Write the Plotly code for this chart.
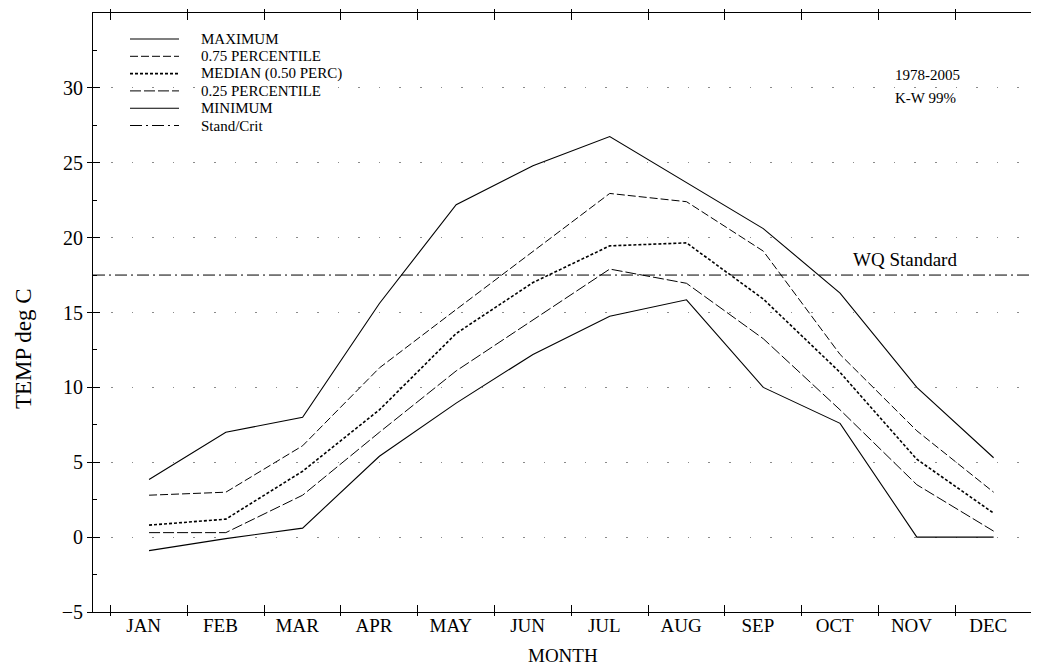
import plotly.graph_objects as go

# ---------------- data ----------------
months = ["JAN", "FEB", "MAR", "APR", "MAY", "JUN",
          "JUL", "AUG", "SEP", "OCT", "NOV", "DEC"]
maximum = [3.85, 7.0, 8.0, 15.6, 22.2, 24.8, 26.75, 23.7, 20.6, 16.3, 10.0, 5.3]
p75 = [2.8, 3.0, 6.1, 11.3, 15.2, 19.1, 22.95, 22.4, 19.1, 12.2, 7.1, 3.0]
median = [0.8, 1.2, 4.4, 8.5, 13.6, 17.0, 19.45, 19.65, 15.9, 11.0, 5.2, 1.6]
p25 = [0.3, 0.3, 2.8, 7.0, 11.1, 14.5, 17.9, 16.95, 13.25, 8.5, 3.5, 0.4]
minimum = [-0.9, -0.1, 0.6, 5.4, 8.95, 12.2, 14.75, 15.85, 10.0, 7.6, 0.0, 0.0]
wq_standard = 17.5
legend_names = ["MAXIMUM", "0.75 PERCENTILE", "MEDIAN (0.50 PERC)",
                "0.25 PERCENTILE", "MINIMUM", "Stand/Crit"]
y_tick_vals = [-5, 0, 5, 10, 15, 20, 25, 30]
y_minor_vals = [-2.5, 2.5, 7.5, 12.5, 17.5, 22.5, 27.5, 32.5]
period_text = ["1978-2005", "K-W 99%"]

# ---------------- layout constants ----------------
# the page body has an 8px margin, so the figure is sized to fill the window
OFF = 8
W, H = 1039 - OFF, 668 - OFF
PLOT_L, PLOT_R, PLOT_T, PLOT_B = 93, 1032, 13, 612   # page pixels
ML, MT = PLOT_L - OFF, PLOT_T - OFF
MR, MB = W - (PLOT_R - OFF), H - (PLOT_B - OFF)
PW, PH = PLOT_R - PLOT_L, PLOT_B - PLOT_T
FONT = "Liberation Serif, Times New Roman, serif"
X_RANGE = [-0.73, 11.5]
Y_RANGE = [-5, 35]

def px_x(px):
    return (px - PLOT_L) / PW

def px_y(py):
    return (PLOT_B - py) / PH

styles = [
    dict(dash="solid", width=1.1),
    dict(dash="8px,3px", width=1.0),
    dict(dash="3px,2px", width=1.6),
    dict(dash="11px,3px", width=1.0),
    dict(dash="solid", width=1.1),
    dict(dash="12px,4px,2px,4px", width=1.0),
]
series = [maximum, p75, median, p25, minimum]
xs = list(range(len(months)))

fig = go.Figure()
for name, vals, st in zip(legend_names[:5], series, styles[:5]):
    fig.add_trace(go.Scatter(
        x=xs, y=vals, mode="lines", name=name, showlegend=False,
        line=dict(color="black", width=st["width"], dash=st["dash"]),
        hoverinfo="skip"))

# empty helper traces so that the tick-only overlay axes are drawn
for xa, ya in [("x2", "y"), ("x3", "y"), ("x4", "y"), ("x5", "y"),
               ("x", "y2"), ("x", "y3")]:
    fig.add_trace(go.Scatter(x=[], y=[], xaxis=xa, yaxis=ya, mode="lines",
                             showlegend=False, hoverinfo="skip"))

shapes = []
# water-quality standard line
shapes.append(dict(type="line", xref="paper", x0=0, x1=1, yref="y",
                   y0=wq_standard, y1=wq_standard,
                   line=dict(color="black", width=1, dash=styles[5]["dash"])))

# custom legend
annotations = []
row0, row_gap = 39, 17.3
for i, (name, st) in enumerate(zip(legend_names, styles)):
    yy = px_y(row0 + row_gap * i)
    shapes.append(dict(type="line", xref="paper", yref="paper",
                       x0=px_x(130), x1=px_x(179), y0=yy, y1=yy,
                       line=dict(color="black", width=st["width"], dash=st["dash"])))
    annotations.append(dict(xref="paper", yref="paper", x=px_x(199), y=yy,
                            text=name, showarrow=False, xanchor="left",
                            yanchor="middle",
                            font=dict(family=FONT, size=15, color="black")))

for i, t in enumerate(period_text):
    annotations.append(dict(xref="paper", yref="paper", x=px_x(893),
                            y=px_y(75 + 23 * i), text=t, showarrow=False,
                            xanchor="left", yanchor="middle",
                            font=dict(family=FONT, size=15, color="black")))

annotations.append(dict(xref="x", yref="y", x=9.84, y=wq_standard,
                        text="WQ Standard", showarrow=False, xanchor="center",
                        yanchor="bottom", yshift=3,
                        font=dict(family=FONT, size=19, color="black")))

# axis titles
annotations.append(dict(xref="paper", yref="paper", x=px_x(563), y=px_y(655),
                        text="MONTH", showarrow=False, xanchor="center",
                        yanchor="middle",
                        font=dict(family=FONT, size=19, color="black")))
annotations.append(dict(xref="paper", yref="paper", x=px_x(23), y=px_y(349),
                        text="TEMP deg C", showarrow=False, textangle=-90,
                        xanchor="center", yanchor="middle",
                        font=dict(family=FONT, size=23, color="black")))

boundaries = [i - 0.5 for i in range(len(months) + 1)]
label_pos = [i - 0.07 for i in xs]

common = dict(automargin=False, zeroline=False, showgrid=False,
              showline=True, linecolor="black", linewidth=1)

def tick_axis(side, direction, length, vals, rng, over):
    return dict(range=rng, overlaying=over, side=side, tickmode="array",
                tickvals=vals, ticks=direction, ticklen=length,
                tickcolor="black", tickwidth=1, showticklabels=False,
                **common)

xa2 = tick_axis("bottom", "inside", 7, boundaries, X_RANGE, "x")
xa3 = tick_axis("bottom", "outside", 3, boundaries, X_RANGE, "x")
xa4 = tick_axis("top", "inside", 7, boundaries, X_RANGE, "x")
xa5 = tick_axis("top", "outside", 3, boundaries, X_RANGE, "x")
for a in (xa2, xa3, xa4, xa5):
    a["anchor"] = "y"
ya2 = tick_axis("left", "inside", 7, y_tick_vals, Y_RANGE, "y")
ya3 = tick_axis("left", "inside", 4, y_minor_vals, Y_RANGE, "y")
for a in (ya2, ya3):
    a["anchor"] = "x"

fig.update_layout(
    width=W, height=H,
    margin=dict(l=ML, r=MR, t=MT, b=MB, pad=0, autoexpand=False),
    plot_bgcolor="white", paper_bgcolor="white",
    font=dict(family=FONT, color="black"),
    shapes=shapes, annotations=annotations,
    xaxis=dict(range=X_RANGE, tickmode="array", tickvals=label_pos,
               ticktext=months, ticks="", mirror=True,
               ticklabelstandoff=-4,
               tickfont=dict(family=FONT, size=19, color="black"), **common),
    xaxis2=xa2, xaxis3=xa3, xaxis4=xa4, xaxis5=xa5,
    yaxis=dict(range=Y_RANGE, tickmode="array", tickvals=y_tick_vals,
               ticks="outside", ticklen=5, tickcolor="black",
               automargin=False, zeroline=False, showline=True,
               linecolor="black", linewidth=1, showgrid=True,
               gridcolor="#8a8a8a", gridwidth=1,
               griddash="0px,18px,1.6px,1px",
               tickfont=dict(family=FONT, size=20, color="black")),
    yaxis2=ya2, yaxis3=ya3,
    showlegend=False,
)

fig.write_html("out.html")
